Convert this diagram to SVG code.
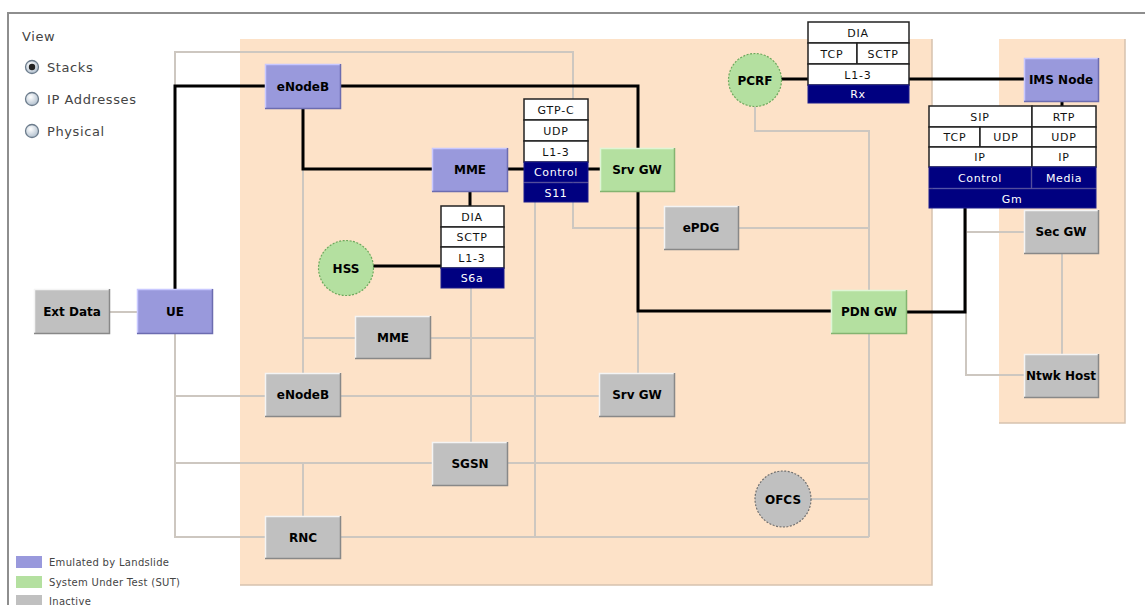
<svg xmlns="http://www.w3.org/2000/svg" width="1145" height="605" viewBox="0 0 1145 605">
<defs>
<radialGradient id="rg" cx="0.4" cy="0.35" r="0.7"><stop offset="0" stop-color="#ffffff"/><stop offset="1" stop-color="#aebdcc"/></radialGradient>
<style>
.ui{font-family:"DejaVu Sans",sans-serif;font-size:13px;fill:#444;letter-spacing:0.6px}
.lg{font-family:"DejaVu Sans",sans-serif;font-size:10px;fill:#444;letter-spacing:0.3px}
.nl{font-family:"DejaVu Sans",sans-serif;font-size:12px;font-weight:bold;fill:#000;text-anchor:middle}
.st{font-family:"DejaVu Sans",sans-serif;font-size:11px;fill:#111;text-anchor:middle;letter-spacing:0.8px}
.sn{font-family:"DejaVu Sans",sans-serif;font-size:11px;fill:#fff;text-anchor:middle;letter-spacing:0.6px}
.cw{fill:#fff;stroke:#222;stroke-width:1.5}
.cn{fill:#000080;stroke:#1c1c8c;stroke-width:1}
.blue{fill:#9999dc}
.green{fill:#b4e0a0}
.gray{fill:#c0c0c0}
.hl{fill:none;stroke:#f4f4f4;stroke-width:1.5}
.hb{fill:none;stroke:#c8c8ff;stroke-width:1.5}
.hg{fill:none;stroke:#dff5d5;stroke-width:1.5}
.sh{fill:none;stroke:#888;stroke-width:1.5}
.sb{fill:none;stroke:#6c6cb0;stroke-width:1.5}
.sg{fill:none;stroke:#84b470;stroke-width:1.5}
.ina{fill:none;stroke:#cdc7c0;stroke-width:2}
.act{fill:none;stroke:#000;stroke-width:3}
</style>
</defs>
<rect x="0" y="0" width="1145" height="605" fill="#fff"/>
<path d="M8 605 V13 H1145" fill="none" stroke="#8e8e8e" stroke-width="2"/>
<g id="view-panel">
<text x="22" y="41" class="ui">View</text>
<circle cx="32" cy="67" r="6.5" fill="url(#rg)" stroke="#6c7c8c" stroke-width="1.3"/>
<circle cx="32" cy="67" r="3.2" fill="#222"/>
<text x="47" y="72" class="ui">Stacks</text>
<circle cx="32" cy="99" r="6.5" fill="url(#rg)" stroke="#6c7c8c" stroke-width="1.3"/>
<text x="47" y="104" class="ui">IP Addresses</text>
<circle cx="32" cy="131" r="6.5" fill="url(#rg)" stroke="#6c7c8c" stroke-width="1.3"/>
<text x="47" y="136" class="ui">Physical</text>
</g>
<g id="legend">
<rect x="16" y="556" width="26" height="12" class="blue"/>
<text x="49" y="566" class="lg">Emulated by Landslide</text>
<rect x="16" y="576" width="26" height="12" class="green"/>
<text x="49" y="586" class="lg">System Under Test (SUT)</text>
<rect x="16" y="595" width="26" height="12" class="gray"/>
<text x="49" y="605" class="lg">Inactive</text>
</g>
<g id="regions">
<rect x="240" y="39" width="692" height="546" fill="#fde2c8"/>
<path d="M932 39 V585 H240" fill="none" stroke="#d6c2ae" stroke-width="1.5"/>
<rect x="999" y="39" width="126" height="384" fill="#fde2c8"/>
<path d="M1125 39 V423 H999" fill="none" stroke="#d6c2ae" stroke-width="1.5"/>
</g>
<g id="connectors">
<polyline class="ina" points="175,86 175,52 573,52 573,228 664,228"/>
<polyline class="ina" points="739,228 869,228"/>
<polyline class="ina" points="755,107 755,131 869,131 869,537"/>
<polyline class="ina" points="811,499 869,499"/>
<polyline class="ina" points="175,334 175,537 869,537"/>
<polyline class="ina" points="175,396 599,396"/>
<polyline class="ina" points="175,463 869,463"/>
<polyline class="ina" points="303,109 303,373"/>
<polyline class="ina" points="303,463 303,516"/>
<polyline class="ina" points="303,338 535,338"/>
<polyline class="ina" points="471,288 471,442"/>
<polyline class="ina" points="535,202 535,537"/>
<polyline class="ina" points="638,311 638,373"/>
<polyline class="ina" points="110,312 137,312"/>
<polyline class="ina" points="966,208 966,375 1024,375"/>
<polyline class="ina" points="966,232 1024,232"/>
<polyline class="ina" points="1062,254 1062,354"/>
<polyline class="act" points="175,289 175,86 265,86"/>
<polyline class="act" points="341,86 638,86 638,148"/>
<polyline class="act" points="303,109 303,169 432,169"/>
<polyline class="act" points="508,169 600,169"/>
<polyline class="act" points="470,192 470,206"/>
<polyline class="act" points="373,266 441,266"/>
<polyline class="act" points="638,192 638,311 831,311"/>
<polyline class="act" points="907,312 965,312 965,208"/>
<polyline class="act" points="781,79 1024,79"/>
<polyline class="act" points="1062,102 1062,106"/>
</g>
<g id="ext-data"><rect x="34" y="289" width="76" height="45" class="gray"/><polyline class="hl" points="34.5,334 34.5,289.5 110,289.5"/><polyline class="sh" points="34,333.5 109.5,333.5 109.5,289"/><text x="72" y="316" class="nl">Ext Data</text></g>
<g id="ue"><rect x="137" y="289" width="76" height="45" class="blue"/><polyline class="hb" points="137.5,334 137.5,289.5 213,289.5"/><polyline class="sb" points="137,333.5 212.5,333.5 212.5,289"/><text x="175" y="316" class="nl">UE</text></g>
<g id="enodeb-active"><rect x="265" y="64" width="76" height="45" class="blue"/><polyline class="hb" points="265.5,109 265.5,64.5 341,64.5"/><polyline class="sb" points="265,108.5 340.5,108.5 340.5,64"/><text x="303" y="91" class="nl">eNodeB</text></g>
<g id="mme-active"><rect x="432" y="148" width="76" height="44" class="blue"/><polyline class="hb" points="432.5,192 432.5,148.5 508,148.5"/><polyline class="sb" points="432,191.5 507.5,191.5 507.5,148"/><text x="470" y="174" class="nl">MME</text></g>
<g id="srvgw-sut"><rect x="600" y="148" width="75" height="44" class="green"/><polyline class="hg" points="600.5,192 600.5,148.5 675,148.5"/><polyline class="sg" points="600,191.5 674.5,191.5 674.5,148"/><text x="637" y="174" class="nl">Srv GW</text></g>
<g id="pdngw-sut"><rect x="831" y="290" width="76" height="44" class="green"/><polyline class="hg" points="831.5,334 831.5,290.5 907,290.5"/><polyline class="sg" points="831,333.5 906.5,333.5 906.5,290"/><text x="869" y="316" class="nl">PDN GW</text></g>
<g id="ims-node"><rect x="1024" y="58" width="75" height="44" class="blue"/><polyline class="hb" points="1024.5,102 1024.5,58.5 1099,58.5"/><polyline class="sb" points="1024,101.5 1098.5,101.5 1098.5,58"/><text x="1061" y="84" class="nl">IMS Node</text></g>
<g id="epdg"><rect x="664" y="206" width="75" height="44" class="gray"/><polyline class="hl" points="664.5,250 664.5,206.5 739,206.5"/><polyline class="sh" points="664,249.5 738.5,249.5 738.5,206"/><text x="701" y="232" class="nl">ePDG</text></g>
<g id="sec-gw"><rect x="1024" y="210" width="75" height="44" class="gray"/><polyline class="hl" points="1024.5,254 1024.5,210.5 1099,210.5"/><polyline class="sh" points="1024,253.5 1098.5,253.5 1098.5,210"/><text x="1061" y="236" class="nl">Sec GW</text></g>
<g id="ntwk-host"><rect x="1024" y="354" width="75" height="44" class="gray"/><polyline class="hl" points="1024.5,398 1024.5,354.5 1099,354.5"/><polyline class="sh" points="1024,397.5 1098.5,397.5 1098.5,354"/><text x="1061" y="380" class="nl">Ntwk Host</text></g>
<g id="mme-inactive"><rect x="355" y="316" width="76" height="43" class="gray"/><polyline class="hl" points="355.5,359 355.5,316.5 431,316.5"/><polyline class="sh" points="355,358.5 430.5,358.5 430.5,316"/><text x="393" y="342" class="nl">MME</text></g>
<g id="enodeb-inactive"><rect x="265" y="373" width="76" height="44" class="gray"/><polyline class="hl" points="265.5,417 265.5,373.5 341,373.5"/><polyline class="sh" points="265,416.5 340.5,416.5 340.5,373"/><text x="303" y="399" class="nl">eNodeB</text></g>
<g id="srvgw-inactive"><rect x="599" y="373" width="76" height="44" class="gray"/><polyline class="hl" points="599.5,417 599.5,373.5 675,373.5"/><polyline class="sh" points="599,416.5 674.5,416.5 674.5,373"/><text x="637" y="399" class="nl">Srv GW</text></g>
<g id="sgsn"><rect x="432" y="442" width="76" height="44" class="gray"/><polyline class="hl" points="432.5,486 432.5,442.5 508,442.5"/><polyline class="sh" points="432,485.5 507.5,485.5 507.5,442"/><text x="470" y="468" class="nl">SGSN</text></g>
<g id="rnc"><rect x="265" y="516" width="76" height="43" class="gray"/><polyline class="hl" points="265.5,559 265.5,516.5 341,516.5"/><polyline class="sh" points="265,558.5 340.5,558.5 340.5,516"/><text x="303" y="542" class="nl">RNC</text></g>
<g id="pcrf"><circle cx="755" cy="80" r="26.5" fill="#b4e0a0" stroke="#6da85c" stroke-width="1.2" stroke-dasharray="2 1.5"/><text x="755" y="85" class="nl">PCRF</text></g>
<g id="hss"><circle cx="346" cy="268" r="27.5" fill="#b4e0a0" stroke="#6da85c" stroke-width="1.2" stroke-dasharray="2 1.5"/><text x="346" y="273" class="nl">HSS</text></g>
<g id="ofcs"><circle cx="783" cy="499" r="28" fill="#c0c0c0" stroke="#707070" stroke-width="1.2" stroke-dasharray="2 1.5"/><text x="783" y="504" class="nl">OFCS</text></g>
<g id="stack-s11">
<rect x="524" y="99" width="64" height="21" class="cw"/><text x="556" y="114" class="st">GTP-C</text>
<rect x="524" y="120" width="64" height="21" class="cw"/><text x="556" y="135" class="st">UDP</text>
<rect x="524" y="141" width="64" height="21" class="cw"/><text x="556" y="156" class="st">L1-3</text>
<rect x="524" y="162" width="64" height="20" class="cn"/><text x="556" y="176" class="sn">Control</text>
<rect x="524" y="183" width="64" height="19" class="cn"/><text x="556" y="197" class="sn">S11</text>
</g>
<g id="stack-s6a">
<rect x="441" y="206" width="63" height="21" class="cw"/><text x="472" y="221" class="st">DIA</text>
<rect x="441" y="227" width="63" height="20" class="cw"/><text x="472" y="241" class="st">SCTP</text>
<rect x="441" y="247" width="63" height="21" class="cw"/><text x="472" y="262" class="st">L1-3</text>
<rect x="441" y="268" width="63" height="20" class="cn"/><text x="472" y="282" class="sn">S6a</text>
</g>
<g id="stack-rx">
<rect x="808" y="22" width="101" height="21" class="cw"/><text x="858" y="37" class="st">DIA</text>
<rect x="808" y="43" width="49" height="21" class="cw"/><text x="832" y="58" class="st">TCP</text>
<rect x="857" y="43" width="52" height="21" class="cw"/><text x="883" y="58" class="st">SCTP</text>
<rect x="808" y="64" width="101" height="21" class="cw"/><text x="858" y="79" class="st">L1-3</text>
<rect x="808" y="85" width="101" height="18" class="cn"/><text x="858" y="98" class="sn">Rx</text>
</g>
<g id="stack-gm">
<rect x="929" y="106" width="103" height="21" class="cw"/><text x="980" y="121" class="st">SIP</text>
<rect x="929" y="127" width="51" height="20" class="cw"/><text x="955" y="141" class="st">TCP</text>
<rect x="980" y="127" width="52" height="20" class="cw"/><text x="1006" y="141" class="st">UDP</text>
<rect x="929" y="147" width="103" height="20" class="cw"/><text x="980" y="161" class="st">IP</text>
<rect x="1032" y="106" width="64" height="21" class="cw"/><text x="1064" y="121" class="st">RTP</text>
<rect x="1032" y="127" width="64" height="20" class="cw"/><text x="1064" y="141" class="st">UDP</text>
<rect x="1032" y="147" width="64" height="20" class="cw"/><text x="1064" y="161" class="st">IP</text>
<rect x="929" y="167" width="102" height="21" class="cn"/><text x="980" y="182" class="sn">Control</text>
<rect x="1032" y="167" width="64" height="21" class="cn"/><text x="1064" y="182" class="sn">Media</text>
<rect x="929" y="189" width="167" height="19" class="cn"/><text x="1012" y="203" class="sn">Gm</text>
</g>
</svg>
